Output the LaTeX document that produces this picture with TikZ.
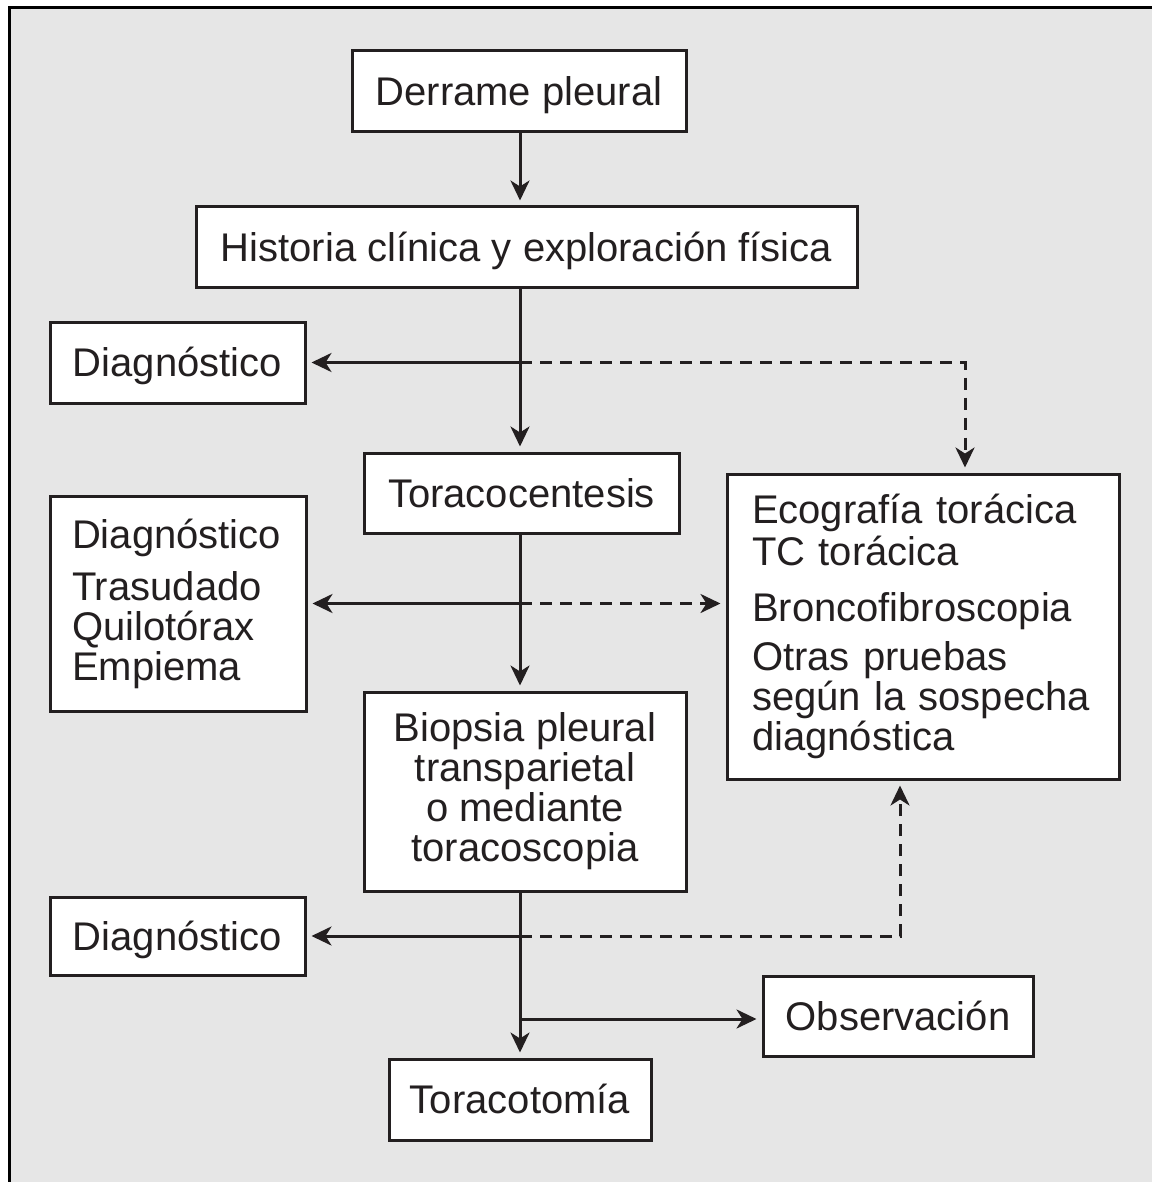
\documentclass[tikz,border=0pt]{standalone}
\usepackage{fontspec}
\setmainfont{Liberation Sans}
\usepackage{xcolor}
\usetikzlibrary{arrows.meta, positioning, calc}
\definecolor{trazo}{HTML}{231F20}
\definecolor{fondo}{HTML}{E6E6E6}
\newcommand\letrafig{\fontsize{20pt}{20pt}\selectfont\lineskiplimit=-100pt\relax}

\begin{document}
\begin{tikzpicture}[x=0.5pt, y=-0.5pt,
  marco/.style={draw=trazo, line width=1.5pt, fill=white, text=trazo, inner sep=0pt, font=\letrafig},
  caja/.style={marco, text height=14.4pt, text depth=0pt},
  lista/.style={marco, align=left},
  flecha/.style={draw=trazo, line width=1.5pt, -{Stealth[length=10pt, width=9.5pt, inset=3pt]}, shorten >=2.5pt},
  discont/.style={dash pattern=on 6pt off 4pt}]
  \useasboundingbox (0,0) rectangle (1152,1182);

  % Fondo y borde
  \fill[fondo] (10,8) rectangle (1152,1182);
  \draw[black, line width=1.5pt] (9.5,1182) -- (9.5,7.5) -- (1152,7.5);

  % Cajas del tronco central
  \node[caja, minimum width=167pt, minimum height=40.5pt] (derrame) at (519,91.5) {Derrame pleural};
  \node[caja, minimum width=330.5pt, minimum height=40pt] (historia) at (526.5,247) {Historia clínica y exploración física};
  \node[caja, minimum width=157.5pt, minimum height=40pt] (toraco) at (521.5,493) {Toracocentesis};
  \node[marco, align=center, minimum width=161pt, minimum height=99.5pt] (biopsia) at (525,791.5)
    {Biopsia pleural\\transparietal\\o mediante\\toracoscopia};
  \node[caja, minimum width=131pt, minimum height=40.5pt] (toracot) at (520,1099.5) {Toracotomía};

  % Cajas laterales
  \node[caja, minimum width=127.5pt, minimum height=40.5pt] (diagA) at (177.5,362.5) {Diagnóstico};
  \node[lista, text width=106pt, inner xsep=11pt, minimum height=107.5pt] (diagB) at (178,603.5)
    {Diagnóstico\\[6pt]Trasudado\\Quilotórax\\Empiema};
  \node[caja, minimum width=127.5pt, minimum height=39pt] (diagC) at (177.5,936) {Diagnóstico};
  \node[lista, text width=171pt, inner xsep=12.5pt, minimum height=152.5pt] (eco) at (923,626.5)
    {Ecografía torácica\\[1pt]TC torácica\\[8pt]Broncofibroscopia\\[4.5pt]Otras pruebas\\según la sospecha\\diagnóstica};
  \node[caja, minimum width=135pt, minimum height=40pt] (observa) at (898,1016) {Observación};

  % Eje vertical
  \coordinate (eje) at (520,0);
  \draw[flecha] (derrame.south -| eje) -- (historia.north -| eje);
  \draw[flecha] (historia.south -| eje) -- (toraco.north -| eje);
  \draw[flecha] (toraco.south -| eje) -- (biopsia.north -| eje);
  \draw[flecha] (biopsia.south -| eje) -- (toracot.north -| eje);

  % Ramas hacia los diagnósticos y pruebas
  \draw[flecha] (diagA.east -| eje) -- (diagA.east);
  \draw[flecha, discont] (diagA.east -| eje) -| (965,0 |- eco.north);
  \draw[flecha] (diagB.east -| eje) -- (diagB.east);
  \draw[flecha, discont] (diagB.east -| eje) -- (eco.west |- diagB.east);
  \draw[flecha] (diagC.east -| eje) -- (diagC.east);
  \draw[flecha, discont] (diagC.east -| eje) -| (900,0 |- eco.south);
  \draw[flecha] ([yshift=-1.5pt]observa.west -| eje) -- ([yshift=-1.5pt]observa.west);
\end{tikzpicture}
\end{document}
